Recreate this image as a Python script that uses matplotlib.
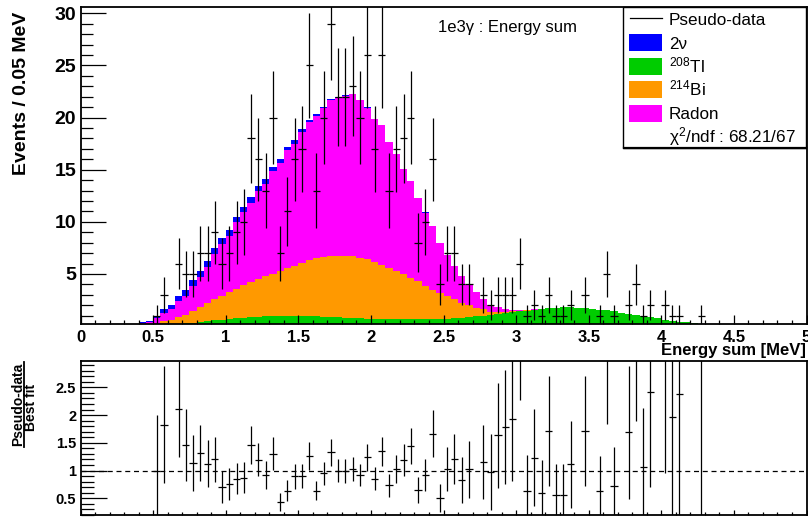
import numpy as np
import matplotlib.pyplot as plt
from matplotlib.patches import Rectangle
from matplotlib.lines import Line2D
from matplotlib.ticker import MultipleLocator, FuncFormatter

plt.rcParams['font.family'] = ['Liberation Sans', 'DejaVu Sans']
plt.rcParams['mathtext.fontset'] = 'custom'
plt.rcParams['mathtext.rm'] = 'Liberation Sans'
plt.rcParams['mathtext.it'] = 'Liberation Sans:italic'
plt.rcParams['mathtext.bf'] = 'Liberation Sans:bold'

# binning: 0.05 MeV bins, first non-empty bin starts at 0.40 MeV
bin_width = 0.05
first_edge = 0.40

# best-fit components (events / bin)
tl208 = [0, 0, 0.05, 0.1, 0.15, 0.2, 0.25, 0.32, 0.4, 0.48,
         0.55, 0.62, 0.68, 0.74, 0.8, 0.85, 0.9, 0.93, 0.95, 0.97,
         0.98, 0.98, 0.97, 0.95, 0.93, 0.9, 0.87, 0.84, 0.81, 0.78,
         0.75, 0.72, 0.7, 0.68, 0.66, 0.65, 0.64, 0.64, 0.64, 0.65,
         0.66, 0.68, 0.71, 0.75, 0.8, 0.86, 0.93, 1.0, 1.08, 1.16,
         1.24, 1.32, 1.40, 1.47, 1.55, 1.62, 1.72, 1.78, 1.79, 1.80,
         1.78, 1.75, 1.68, 1.58, 1.50, 1.40, 1.30, 1.18, 1.06, 0.94,
         0.83, 0.73, 0.61, 0.51, 0.42, 0.35, 0.29, 0.24, 0.2, 0.16]
bi214 = [0, 0, 0.05, 0.35, 0.48, 0.65, 0.85, 1.08, 1.4, 1.72,
         2.0, 2.28, 2.62, 2.83, 3.1, 3.35, 3.6, 3.87, 4.05, 4.33,
         4.62, 4.82, 5.08, 5.35, 5.57, 5.7, 5.83, 5.89, 5.92, 5.92,
         5.8, 5.68, 5.4, 5.22, 4.94, 4.65, 4.31, 3.96, 3.66, 3.15,
         2.84, 2.52, 2.16, 1.8, 1.4, 1.14, 0.82, 0.6, 0.3, 0.2,
         0.12, 0.08, 0.06, 0.04, 0.03, 0.02, 0, 0, 0, 0,
         0, 0, 0, 0, 0, 0, 0, 0, 0, 0,
         0, 0, 0, 0, 0, 0, 0, 0, 0, 0]
radon = [0.25, 0.35, 0.65, 0.84, 1.0, 1.51, 1.8, 2.46, 2.92, 3.45,
         4.35, 4.95, 5.32, 6.37, 7.01, 7.63, 8.41, 8.84, 9.87, 10.31,
         11.25, 11.69, 12.58, 13.27, 13.6, 14.28, 14.96, 15.16, 15.38, 15.53,
         15.1, 14.56, 13.77, 13.38, 12.08, 11.19, 10.14, 9.29, 7.99, 7.09,
         6.09, 4.79, 3.92, 3.25, 2.6, 1.9, 1.55, 1.0, 0.68, 0.47,
         0.32, 0.16, 0.10, 0.05, 0.04, 0.04, 0.03, 0, 0, 0,
         0, 0, 0, 0, 0, 0, 0, 0, 0, 0,
         0, 0, 0, 0, 0, 0, 0, 0, 0, 0]
two_nu = [0.1, 0.15, 0.25, 0.35, 0.42, 0.48, 0.52, 0.56, 0.58, 0.6,
          0.6, 0.6, 0.58, 0.56, 0.54, 0.52, 0.49, 0.46, 0.43, 0.39,
          0.35, 0.31, 0.27, 0.23, 0.2, 0.17, 0.14, 0.11, 0.09, 0.07,
          0.05, 0.04, 0.03, 0.02, 0.02, 0.01, 0.01, 0.01, 0.01, 0.01,
          0.01, 0.01, 0.01, 0, 0, 0, 0, 0, 0, 0,
          0, 0, 0, 0, 0, 0, 0, 0, 0, 0,
          0, 0, 0, 0, 0, 0, 0, 0, 0, 0,
          0, 0, 0, 0, 0, 0, 0, 0, 0, 0]

# pseudo-data counts
pseudo_data = [0, 0, 1, 3, 0, 6, 5, 5, 7, 7,
               9, 6, 7, 9, 10, 18, 16, 13, 20, 7,
               11, 16, 17, 25, 13, 20, 29, 22, 22, 23,
               20, 26, 17, 26, 13, 17, 18, 20, 8, 10,
               16, 4, 7, 7, 4, 4, 0, 3, 2, 3,
               3, 3, 6, 1, 2, 1, 3, 1, 1, 2,
               0, 3, 0, 1, 5, 1, 0, 2, 4, 1,
               2, 0, 2, 1, 1, 0, 0, 1, 0, 0]

legend_labels = ['Pseudo-data', '2\u03bd', '$^{208}$Tl', '$^{214}$Bi', 'Radon']
chi2_text = '\u03c7$^{2}$/ndf : 68.21/67'
title = '1e3\u03b3 : Energy sum'

c_2nu = '#0000ff'
c_tl = '#00cc00'
c_bi = '#ff9900'
c_rn = '#ff00ff'

n = np.array(pseudo_data, dtype=float)
edges = first_edge + bin_width * np.arange(len(n) + 1)
centers = edges[:-1] + bin_width / 2

s_tl = np.array(tl208)
s_bi = s_tl + np.array(bi214)
s_rn = s_bi + np.array(radon)
total = s_rn + np.array(two_nu)

W, H = 808, 517
fig = plt.figure(figsize=(W / 100, H / 100), dpi=100)


def box(l, t, r, b):
    return [l / W, 1 - b / H, (r - l) / W, (b - t) / H]


def px(x, y):
    return x / W, 1 - y / H


ax = fig.add_axes(box(80.5, 6.7, 806.5, 324))
axr = fig.add_axes(box(80.5, 360.7, 806.5, 515))

# stacked histogram
ax.stairs(total, edges, fill=True, color=c_2nu, lw=0)
ax.stairs(s_rn, edges, fill=True, color=c_rn, lw=0)
ax.stairs(s_bi, edges, fill=True, color=c_bi, lw=0)
ax.stairs(s_tl, edges, fill=True, color=c_tl, lw=0)

m = n > 0
ax.errorbar(centers[m], n[m], yerr=np.sqrt(n[m]), xerr=bin_width / 2,
            fmt='none', ecolor='black', elinewidth=0.9, capsize=0)

ratio = n / total
ratio_err = np.sqrt(n) / total
axr.errorbar(centers[m], ratio[m], yerr=ratio_err[m], xerr=bin_width / 2,
             fmt='none', ecolor='black', elinewidth=0.9, capsize=0)
axr.axhline(1, color='black', lw=0.9, ls=(0, (4, 3)))

fmt = FuncFormatter(lambda v, _: f'{v:g}')
for a in (ax, axr):
    a.set_xlim(0, 5)
    a.xaxis.set_major_locator(MultipleLocator(0.5))
    a.xaxis.set_minor_locator(MultipleLocator(0.1))
    a.xaxis.set_major_formatter(fmt)
    a.yaxis.set_major_formatter(fmt)
    a.tick_params(which='both', direction='in', top=False, right=False, width=0.9)
    for s in a.spines.values():
        s.set_linewidth(1.3)

ax.set_ylim(0.2, 30.63)
ax.yaxis.set_major_locator(MultipleLocator(5))
ax.yaxis.set_minor_locator(MultipleLocator(1))
ax.tick_params(axis='y', which='major', length=18, labelsize=14, pad=3)
ax.tick_params(axis='y', which='minor', length=8.6)
ax.tick_params(axis='x', which='major', length=6.5, labelsize=12, pad=4)
ax.tick_params(axis='x', which='minor', length=3.2)

axr.set_ylim(0.2, 2.98)
axr.yaxis.set_major_locator(MultipleLocator(0.5))
axr.yaxis.set_minor_locator(MultipleLocator(0.1))
axr.tick_params(axis='y', which='major', length=18.7, labelsize=10.5, pad=3)
axr.tick_params(axis='y', which='minor', length=9.4)
axr.tick_params(axis='x', which='major', length=3.5, labelbottom=False)
axr.tick_params(axis='x', which='minor', length=2)

for a in (ax, axr):
    plt.setp(a.get_xticklabels() + a.get_yticklabels(), fontweight='bold')

# axis titles
fig.text(*px(26.5, 93.5), 'Events / 0.05 MeV', rotation=90, rotation_mode='anchor',
         ha='center', va='baseline', fontsize=14, fontweight='bold')
fig.text(*px(806, 355), 'Energy sum [MeV]', ha='right', va='baseline',
         fontsize=12, fontweight='bold')
fig.text(*px(21.7, 404.5), 'Pseudo-data', rotation=90, rotation_mode='anchor',
         ha='center', va='baseline', fontsize=10, fontweight='bold')
fig.text(*px(35, 407), 'Best fit', rotation=90, rotation_mode='anchor',
         ha='center', va='baseline', fontsize=10, fontweight='bold')
fig.add_artist(Line2D([23.5 / W, 23.5 / W], [1 - 362 / H, 1 - 447 / H], color='black', lw=1.3))

fig.text(*px(438, 32.3), title, ha='left', va='baseline', fontsize=12)

# legend
fig.add_artist(Rectangle(px(623, 148), 183 / W, 140.7 / H, facecolor='white',
                         edgecolor='black', lw=1.0, zorder=5))
fig.add_artist(Line2D([624 / W, 806 / W], [1 - 148 / H] * 2, color='black', lw=1.6, zorder=6))
fig.add_artist(Line2D([630 / W, 662 / W], [1 - 18.3 / H] * 2, color='black', lw=0.9, zorder=6))
for yc, col in zip([42.5, 66.3, 89.2, 113.3], [c_2nu, c_tl, c_bi, c_rn]):
    fig.add_artist(Rectangle(px(629, yc + 8.3), 33 / W, 16.6 / H, facecolor=col,
                             edgecolor='none', zorder=6))
for yb, lab in zip([25, 49, 72, 95.5, 119, 142], legend_labels + [chi2_text]):
    t = fig.text(*px(669, yb), lab, ha='left', va='baseline', fontsize=12.3)
    t.set_zorder(7)

fig.savefig('out.png', dpi=100)
